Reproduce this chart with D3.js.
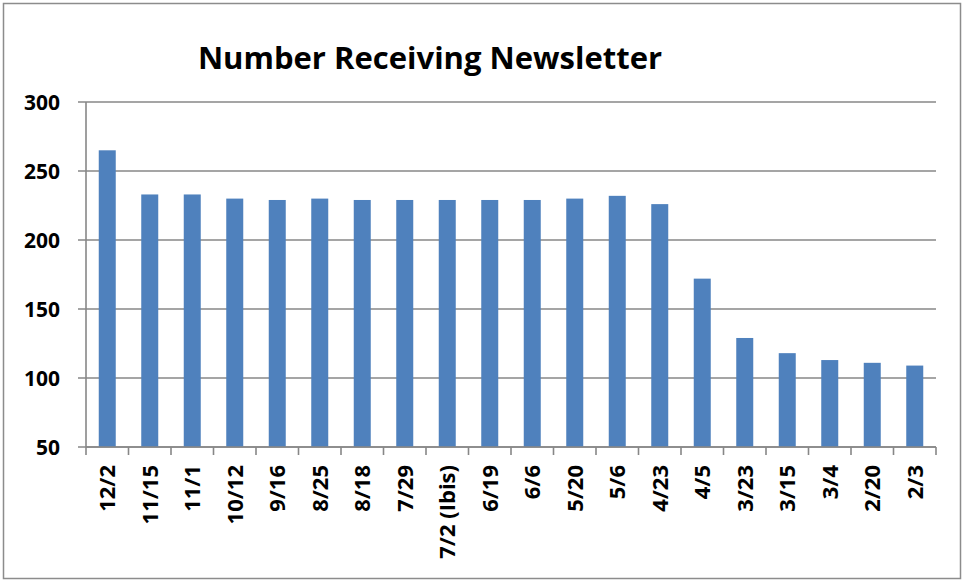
<!DOCTYPE html>
<html>
<head>
<meta charset="utf-8">
<script src="https://cdn.jsdelivr.net/npm/d3@7"></script>
<style>
  body { margin: 0; background: #fff; }
  text { font-family: "Open Sans", sans-serif; font-weight: bold; fill: #000; }
</style>
</head>
<body>
<div class="container"></div>
<script>
// chart data
const dates = ["12/2", "11/15", "11/1", "10/12", "9/16", "8/25", "8/18", "7/29", "7/2 (Ibis)", "6/19",
  "6/6", "5/20", "5/6", "4/23", "4/5", "3/23", "3/15", "3/4", "2/20", "2/3"];
const counts = [265, 233, 233, 230, 229, 230, 229, 229, 229, 229,
  229, 230, 232, 226, 172, 129, 118, 113, 111, 109];
const yTicks = [50, 100, 150, 200, 250, 300];

const width = 964, height = 582;
const plotLeft = 86, plotRight = 936, plotTop = 102, plotBottom = 447;

let svg = d3.select(".container")
  .append("svg")
  .attr("width", width)
  .attr("height", height);

// outer frame
svg.append("rect")
  .attr("x", 3.5)
  .attr("y", 3.5)
  .attr("width", 957)
  .attr("height", 575)
  .attr("fill", "none")
  .attr("stroke", "#8c8c8c")
  .attr("stroke-width", 1.5);

let x = d3.scaleBand()
  .domain(dates)
  .range([plotLeft, plotRight])
  .paddingInner(0.6)
  .paddingOuter(0.3);

let y = d3.scaleLinear()
  .domain([50, 300])
  .range([plotBottom, plotTop]);

// gridlines
let grid = svg.append("g")
  .attr("class", "grid");
yTicks.forEach(t => {
  grid.append("line")
    .attr("x1", plotLeft - 8)
    .attr("x2", plotRight)
    .attr("y1", y(t))
    .attr("y2", y(t))
    .attr("stroke", "#878787")
    .attr("stroke-width", 1.6);
});

// y axis line
svg.append("line")
  .attr("x1", plotLeft)
  .attr("x2", plotLeft)
  .attr("y1", plotTop)
  .attr("y2", plotBottom)
  .attr("stroke", "#878787")
  .attr("stroke-width", 1.6);

// y labels
svg.append("g")
  .selectAll("text")
  .data(yTicks)
  .join("text")
  .attr("x", 60)
  .attr("y", d => y(d))
  .attr("dy", "0.36em")
  .attr("text-anchor", "end")
  .attr("font-size", 21)
  .text(d => d);

// bars
svg.append("g")
  .selectAll("rect")
  .data(counts)
  .join("rect")
  .attr("x", (d, i) => x(dates[i]))
  .attr("y", d => y(d))
  .attr("width", x.bandwidth())
  .attr("height", d => plotBottom - y(d))
  .attr("fill", "#4f81bd");

// x tick marks at category boundaries
let bounds = d3.range(dates.length + 1).map(i => plotLeft + i * (plotRight - plotLeft) / dates.length);
svg.append("g")
  .selectAll("line")
  .data(bounds)
  .join("line")
  .attr("x1", d => d)
  .attr("x2", d => d)
  .attr("y1", plotBottom)
  .attr("y2", plotBottom + 8)
  .attr("stroke", "#878787")
  .attr("stroke-width", 1.6);

// x axis line
svg.append("line")
  .attr("x1", plotLeft)
  .attr("x2", plotRight)
  .attr("y1", plotBottom)
  .attr("y2", plotBottom)
  .attr("stroke", "#878787")
  .attr("stroke-width", 1.6);

// x labels rotated
svg.append("g")
  .selectAll("text")
  .data(dates)
  .join("text")
  .attr("transform", d => `translate(${x(d) + x.bandwidth() / 2},${plotBottom + 18}) rotate(-90)`)
  .attr("dy", "0.36em")
  .attr("text-anchor", "end")
  .attr("font-size", 22)
  .text(d => d);

// title
svg.append("text")
  .attr("x", 430)
  .attr("y", 69)
  .attr("text-anchor", "middle")
  .attr("font-size", 31)
  .text("Number Receiving Newsletter");
</script>
</body>
</html>
